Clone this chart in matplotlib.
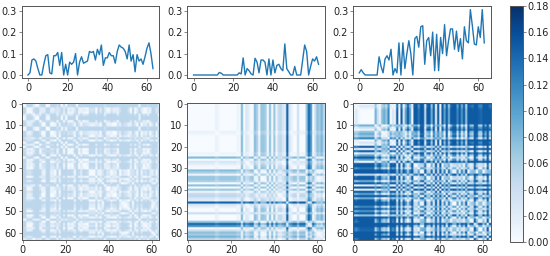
#!/usr/bin/env python3
"""Three signals on top, their pairwise difference matrices below, shared colorbar."""

import numpy as np
import matplotlib
matplotlib.use('Agg')
import matplotlib.pyplot as plt

signal_a = [0.0, 0.01, 0.07, 0.075, 0.065, 0.03, 0.0, 0.0, 0.05, 0.09, 0.095, 0.01, 0.005, 0.09, 0.09,
            0.105, 0.045, 0.105, 0.0, 0.05, 0.0, 0.06, 0.05, 0.06, 0.1, 0.0, 0.06, 0.085, 0.055, 0.06,
            0.065, 0.11, 0.105, 0.11, 0.07, 0.12, 0.095, 0.14, 0.045, 0.08, 0.08, 0.105, 0.09, 0.09, 0.055, 0.11,
            0.14, 0.13, 0.125, 0.11, 0.075, 0.14, 0.065, 0.095, 0.015, 0.095, 0.065, 0.075, 0.05, 0.085,
            0.125, 0.15, 0.1, 0.03]
signal_b = [0.0] * 13 + [0.012, 0.008] + [0.0] * 8 + [0.01, 0.005, 0.08, 0.0, 0.03, 0.02, 0.005, 0.0,
            0.078, 0.06, 0.01, 0.07, 0.07, 0.06, 0.0, 0.075, 0.0, 0.07, 0.01, 0.045, 0.05, 0.03, 0.02,
            0.145, 0.03, 0.015, 0.0, 0.0, 0.04, 0.0, 0.0, 0.0, 0.07, 0.14, 0.11, 0.0, 0.04, 0.075, 0.065,
            0.085, 0.05]
signal_c = [0.01, 0.025, 0.01] + [0.0] * 7 + [0.085, 0.04, 0.01, 0.075, 0.09, 0.07, 0.12, 0.0, 0.03, 0.01,
            0.15, 0.0, 0.15, 0.03, 0.1, 0.16, 0.1, 0.0, 0.17, 0.18, 0.13, 0.225, 0.23, 0.05, 0.16, 0.175,
            0.09, 0.2, 0.02, 0.19, 0.02, 0.175, 0.1, 0.235, 0.09, 0.16, 0.215, 0.215, 0.12, 0.205, 0.11,
            0.17, 0.075, 0.225, 0.16, 0.15, 0.305, 0.23, 0.145, 0.14, 0.225, 0.175, 0.305, 0.15]
# the matrices look saturated, so each one gets its own cap
caps = [0.05, 0.15, 0.15]
cbar_ticks = [0.00, 0.02, 0.04, 0.06, 0.08, 0.10, 0.12, 0.14, 0.16, 0.18]

W, H = 550, 256
SPINE = '#555555'
plt.rcParams['font.size'] = 7
plt.rcParams['text.color'] = '#222222'
plt.rcParams['xtick.labelcolor'] = '#222222'
plt.rcParams['ytick.labelcolor'] = '#222222'


def pixel_axes(fig, x0, y0, x1, y1):
    """Axes from pixel box, y counted from the top"""
    ax = fig.add_axes([x0 / W, 1 - y1 / H, (x1 - x0) / W, (y1 - y0) / H])
    style_axes(ax)
    return ax


def style_axes(ax):
    for spine in ax.spines.values():
        spine.set_linewidth(0.7)
        spine.set_color(SPINE)
    ax.tick_params(length=2, width=0.5, pad=1.5, color=SPINE, labelsize=7)


fig = plt.figure(figsize=(W / 100, H / 100), dpi=100)
lefts = [21.7, 187.3, 353]
im = None
for x0, signal, cap in zip(lefts, [signal_a, signal_b, signal_c], caps):
    values = np.array(signal)

    top = pixel_axes(fig, x0, 6, x0 + 137.5, 78)
    top.plot(values, color='#1f77b4', linewidth=1.0)
    top.set_ylim(-0.014, 0.322)
    top.set_xticks([0, 20, 40, 60])
    top.set_yticks([0.0, 0.1, 0.2, 0.3])

    bottom = pixel_axes(fig, x0, 103, x0 + 137.5, 240)
    diff = np.clip(np.abs(values[:, None] - values[None, :]), 0, cap)
    im = bottom.imshow(diff, cmap='Blues', vmin=0, vmax=0.18, aspect='auto')
    bottom.set_xticks([0, 20, 40, 60])
    bottom.set_yticks([0, 10, 20, 30, 40, 50, 60])

cax = pixel_axes(fig, 510, 6, 523, 242)
cbar = fig.colorbar(im, cax=cax, ticks=cbar_ticks)
cbar.ax.set_yticklabels([f'{t:.2f}' for t in cbar_ticks])
cbar.outline.set_linewidth(0.7)
cbar.outline.set_edgecolor(SPINE)
style_axes(cax)

fig.savefig('out.png', dpi=100)
